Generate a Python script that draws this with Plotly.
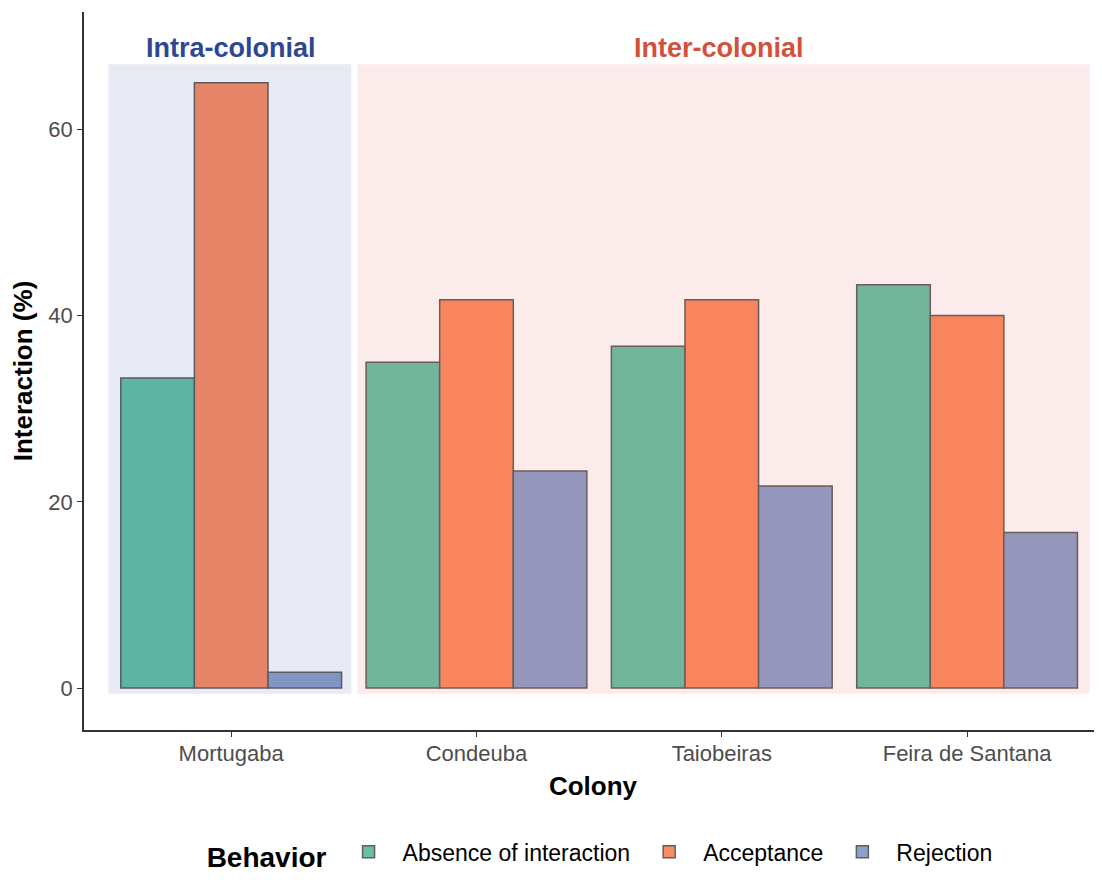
import plotly.graph_objects as go

colonies = ["Mortugaba", "Condeuba", "Taiobeiras", "Feira de Santana"]
behaviors = ["Absence of interaction", "Acceptance", "Rejection"]
absence = [33.3, 35.0, 36.7, 43.3]
acceptance = [65.0, 41.7, 41.7, 40.0]
rejection = [1.7, 23.3, 21.7, 16.7]
series = [absence, acceptance, rejection]
colors = ["#66C2A5", "#FC8D62", "#8DA0CB"]

group_labels = ["Intra-colonial", "Inter-colonial"]
group_colors = ["#2E4793", "#D4503A"]

FONT = "Liberation Sans, Arial, sans-serif"

fig = go.Figure()
for name, vals, col in zip(behaviors, series, colors):
    fig.add_trace(go.Bar(
        x=colonies, y=vals, name=name,
        marker=dict(color=col, line=dict(color="#5F5F5F", width=1.5)),
    ))

# translucent panels drawn over the bars (like ggplot annotate rect)
fig.add_shape(type="rect", xref="x", yref="y", x0=-0.5, x1=0.49, y0=-0.6, y1=67,
              fillcolor="rgba(31,58,147,0.1)", line_width=0, layer="above")
fig.add_shape(type="rect", xref="x", yref="y", x0=0.515, x1=3.5, y0=-0.6, y1=67,
              fillcolor="rgba(215,65,55,0.1)", line_width=0, layer="above")

fig.add_annotation(x=0, y=68.7, xref="x", yref="y", text="<b>" + group_labels[0] + "</b>",
                   showarrow=False, font=dict(family=FONT, size=27, color=group_colors[0]))
fig.add_annotation(x=1.99, y=68.7, xref="x", yref="y", text="<b>" + group_labels[1] + "</b>",
                   showarrow=False, font=dict(family=FONT, size=27, color=group_colors[1]))

fig.update_layout(
    width=1094, height=872,
    margin=dict(l=76, r=0, t=4, b=150),
    paper_bgcolor="white", plot_bgcolor="white",
    barmode="group", bargap=0.1, bargroupgap=0,
    font=dict(family=FONT, color="#4D4D4D"),
    showlegend=True,
    legend=dict(
        orientation="h", x=0.508, xanchor="center",
        yref="container", y=0.03, yanchor="middle",
        title=dict(text="<b>Behavior</b>", font=dict(family=FONT, size=28, color="black")),
        font=dict(family=FONT, size=23, color="black"),
        itemwidth=58,
    ),
)
fig.update_xaxes(
    range=[-0.6, 3.55], showline=True, linecolor="#333333", linewidth=1.5,
    ticks="outside", ticklen=5, tickcolor="#333333", tickwidth=1.2,
    tickfont=dict(family=FONT, size=22, color="#4D4D4D"), ticklabelstandoff=-2,
    title=dict(text="<b>Colony</b>", font=dict(family=FONT, size=26, color="black"), standoff=12),
    showgrid=False, zeroline=False, automargin=False,
)
fig.update_yaxes(
    range=[-4.5, 72.6], showline=True, linecolor="#333333", linewidth=1.5,
    tickvals=[0, 20, 40, 60],
    ticks="outside", ticklen=5, tickcolor="#333333", tickwidth=1.2,
    tickfont=dict(family=FONT, size=22, color="#4D4D4D"),
    title=dict(text="<b>Interaction (%)</b>", font=dict(family=FONT, size=26, color="black"), standoff=10),
    showgrid=False, zeroline=False, automargin=False,
)

fig.write_html("out.html")
